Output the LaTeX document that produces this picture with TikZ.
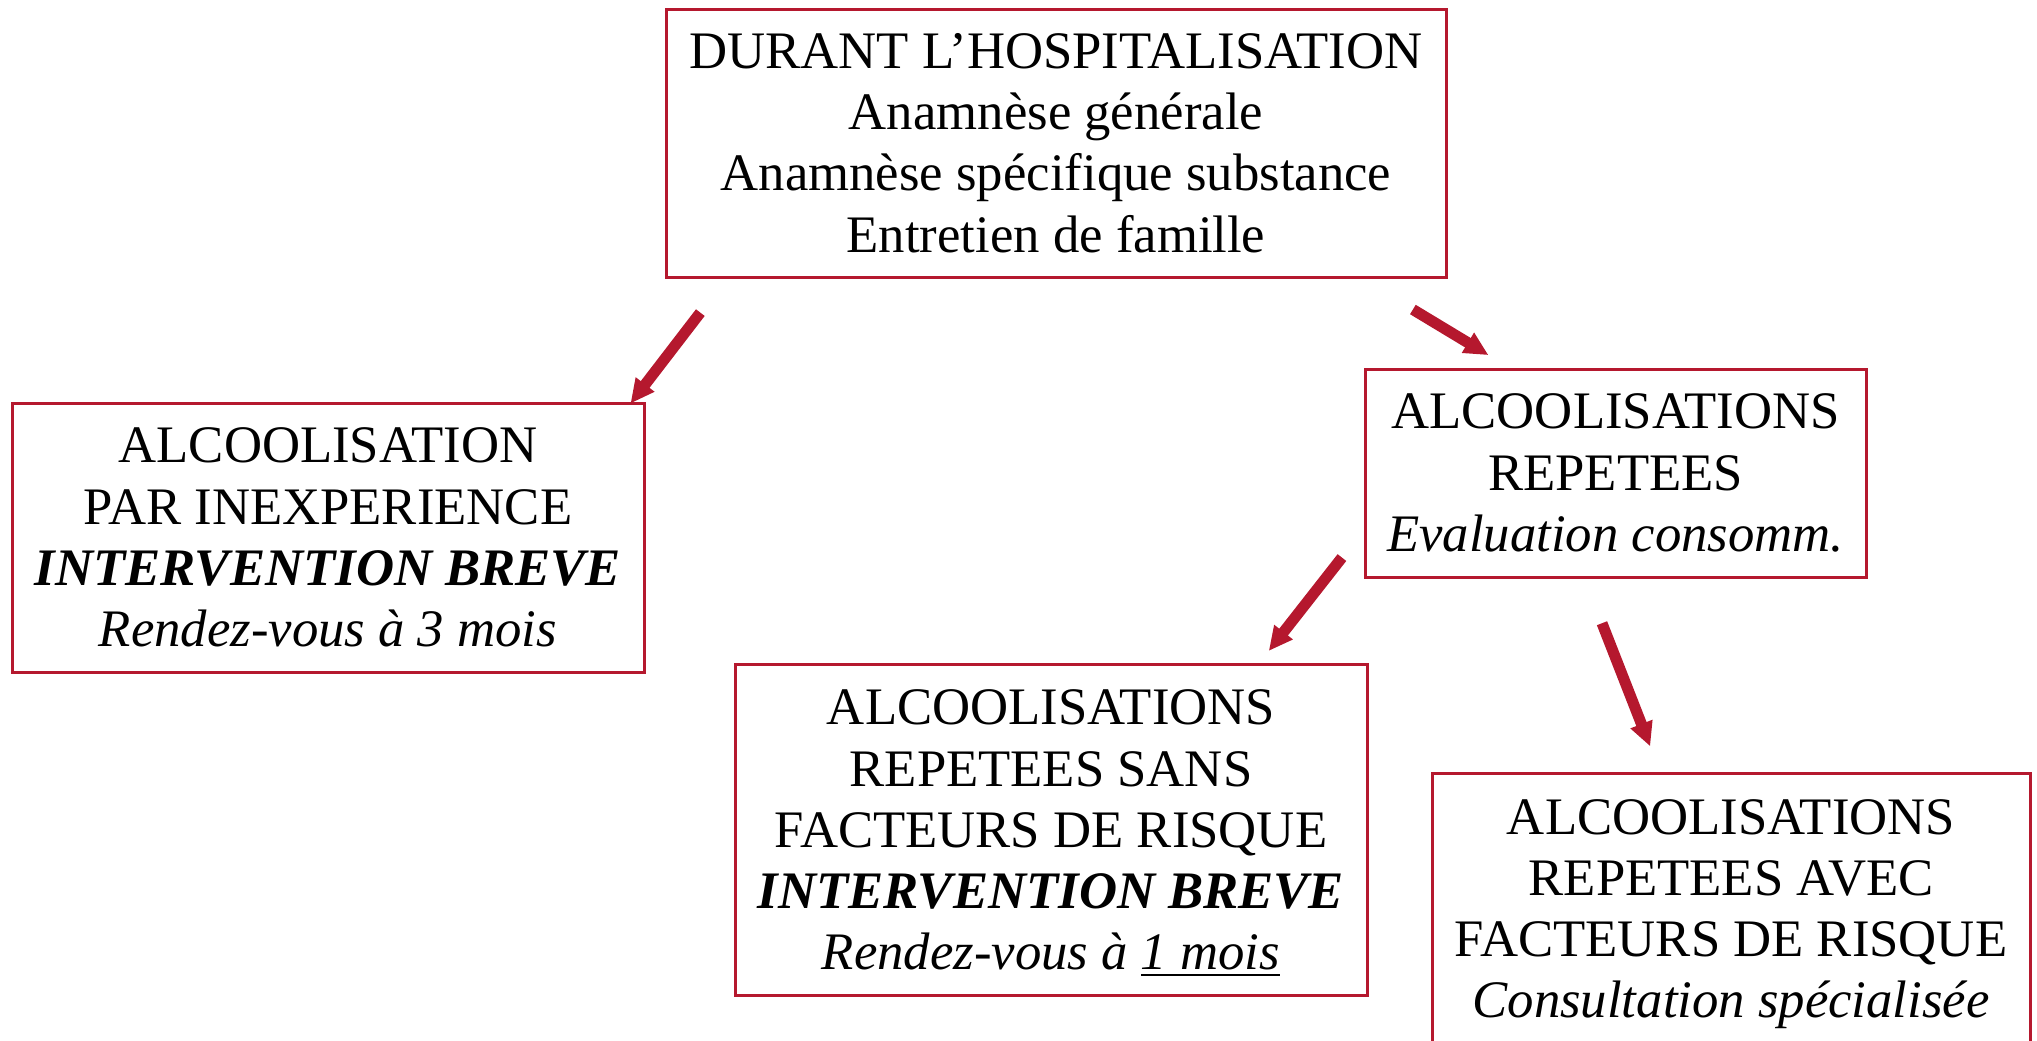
\documentclass[tikz,border=0pt]{standalone}
\usepackage{fontspec}
\setmainfont{Liberation Serif}
\usetikzlibrary{arrows.meta}
\definecolor{boxred}{RGB}{181,24,46}
\tikzset{
	casebox/.style={draw=boxred, line width=0.3mm, inner sep=0pt, align=center, font=\fontsize{15}{17.4}\selectfont},
	flow/.style={draw=boxred, line width=1.1mm, -{Triangle[width=2.2mm, length=2.4mm]}},
}

\begin{document}
\begin{tikzpicture}[x=0.1mm, y=-0.1mm]
		%%%%% START %%%%%
		
		\useasboundingbox (0, 0) rectangle (2037, 1040);
		\clip (0, 0) rectangle (2037, 1040);
		
		\node[casebox, minimum width=78mm, minimum height=26.8mm] (hosp) at (1056, 143) {DURANT L’HOSPITALISATION\\Anamnèse générale\\Anamnèse spécifique substance\\Entretien de famille};
		
		\node[casebox, minimum width=63.2mm, minimum height=26.9mm] (inexp) at (328, 537.5) {ALCOOLISATION\\PAR INEXPERIENCE\\\textbf{\textit{INTERVENTION BREVE}}\\\textit{Rendez-vous à 3 mois}};
		
		\node[casebox, minimum width=50.1mm, minimum height=20.8mm] (repet) at (1615.5, 473) {ALCOOLISATIONS\\REPETEES\\\textit{Evaluation consomm.}};
		
		\node[casebox, minimum width=63.2mm, minimum height=33.15mm] (sans) at (1051, 830) {ALCOOLISATIONS\\REPETEES SANS\\FACTEURS DE RISQUE\\\textbf{\textit{INTERVENTION BREVE}}\\\textit{Rendez-vous à \smash{\underline{1 mois}}}};
		
		\node[casebox, minimum width=59.8mm, minimum height=28.2mm] (avec) at (1731, 914) {ALCOOLISATIONS\\REPETEES AVEC\\FACTEURS DE RISQUE\\\textit{Consultation spécialisée}};
		
		\draw[flow, shorten <=4.3mm] ([xshift=6.2mm]hosp.south west) -- ([xshift=-1.5mm, yshift=-0.2mm]inexp.north east);
		\draw[flow, shorten <=6mm, shorten >=2.4mm] ([xshift=-8.6mm]hosp.south east) -- ([xshift=14.55mm]repet.north west);
		\draw[flow, shorten <=3.5mm, shorten >=1.5mm] ([yshift=-5.7mm]repet.west) -- ([xshift=-10.9mm]sans.north east);
		\draw[flow, shorten <=4.8mm, shorten >=2.7mm] ([xshift=-3.1mm]repet.south) -- ([xshift=-7.1mm]avec.north);
		
		%%%%% END %%%%%
	\end{tikzpicture}
\end{document}
